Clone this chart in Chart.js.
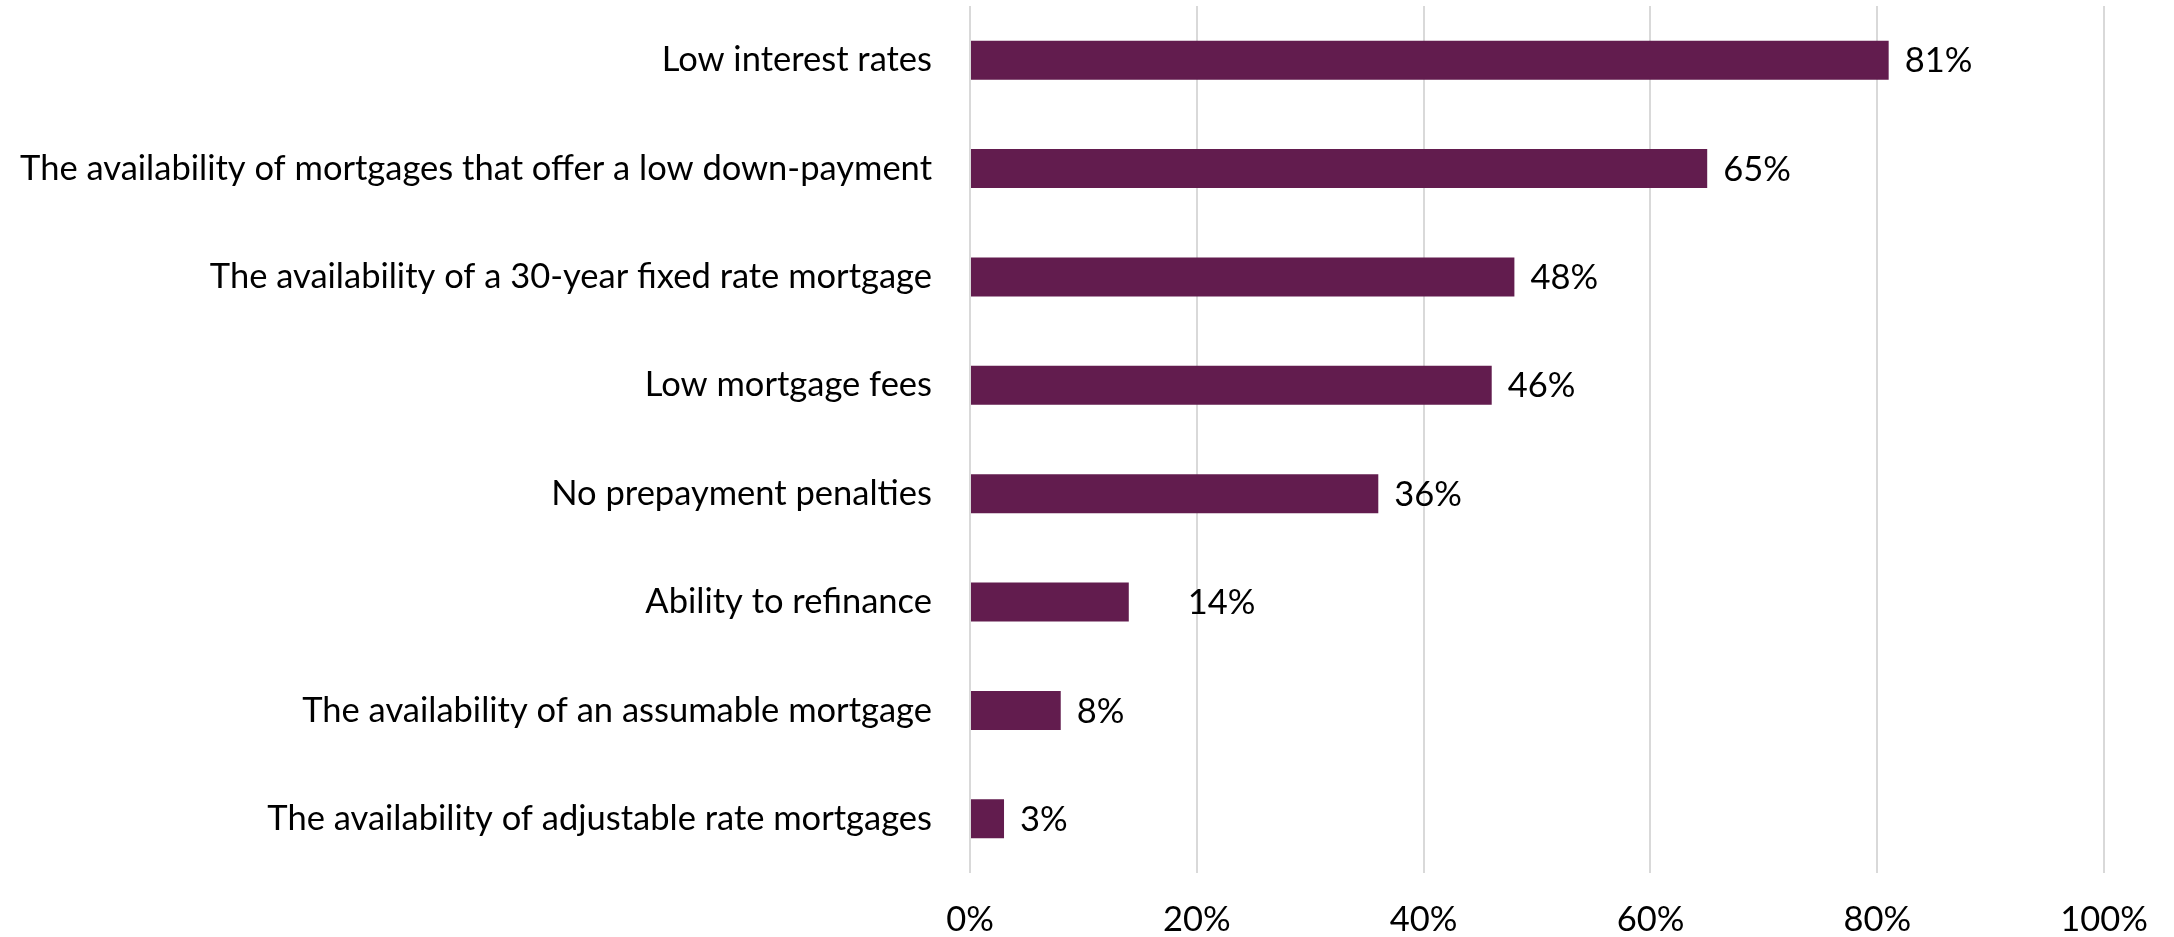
<!DOCTYPE html>
<html>
<head>
<meta charset="utf-8">
<script src="https://cdn.jsdelivr.net/npm/chart.js@4"></script>
<style>
  html, body { margin: 0; padding: 0; background: #fff; }
  #wrap { width: 2174px; height: 937px; }
</style>
</head>
<body>
<div id="wrap"><canvas id="chart"></canvas></div>
<script>
const categories = [
  'Low interest rates',
  'The availability of mortgages that offer a low down-payment',
  'The availability of a 30-year fixed rate mortgage',
  'Low mortgage fees',
  'No prepayment penalties',
  'Ability to refinance',
  'The availability of an assumable mortgage',
  'The availability of adjustable rate mortgages'
];
const shares = [81, 65, 48, 46, 36, 14, 8, 3];
const tickValues = [0, 20, 40, 60, 80, 100];

const FONT = 'Lato, "Open Sans", sans-serif';
const FONT_SIZE = 34.5;

// writes "NN%" just past the end of each bar
const valueLabels = {
  id: 'valueLabels',
  afterDatasetsDraw(chart, args, opts) {
    const ctx = chart.ctx;
    const meta = chart.getDatasetMeta(0);
    ctx.save();
    ctx.font = `${FONT_SIZE}px ${FONT}`;
    ctx.fillStyle = '#000';
    ctx.textAlign = 'left';
    ctx.textBaseline = 'middle';
    meta.data.forEach((bar, i) => {
      const gap = opts.gap + (opts.extraGap[i] || 0);
      ctx.fillText(shares[i] + '%', bar.x + gap, bar.y + 1);
    });
    ctx.restore();
  }
};

new Chart(document.getElementById('chart'), {
  type: 'bar',
  data: {
    labels: categories,
    datasets: [{
      data: shares,
      backgroundColor: '#621c4e',
      barPercentage: 0.36,
      categoryPercentage: 1
    }]
  },
  options: {
    indexAxis: 'y',
    responsive: true,
    maintainAspectRatio: false,
    animation: false,
    layout: { padding: { left: 0, right: 68, top: 6, bottom: 0 } },
    plugins: {
      legend: { display: false },
      tooltip: { enabled: false },
      valueLabels: { gap: 16, extraGap: { 5: 43 } }
    },
    scales: {
      x: {
        min: 0,
        max: 100,
        afterBuildTicks: s => { s.ticks = tickValues.map(v => ({ value: v })); },
        afterFit: s => { s.height = 64; },
        grid: { color: '#d9d9d9', lineWidth: 2, drawTicks: false },
        border: { display: false },
        ticks: {
          padding: 26,
          color: '#000',
          font: { family: FONT, size: FONT_SIZE },
          callback: v => v + '%'
        }
      },
      y: {
        afterFit: s => {
          s.width = 970;
          // labels sit inside their bands, no extra room needed above/below
          s.paddingTop = 0;
          s.paddingBottom = 0;
        },
        grid: { display: false, drawTicks: false },
        border: { display: false },
        ticks: {
          padding: 38,
          color: '#000',
          font: { family: FONT, size: FONT_SIZE }
        }
      }
    }
  },
  plugins: [valueLabels]
});
</script>
</body>
</html>
